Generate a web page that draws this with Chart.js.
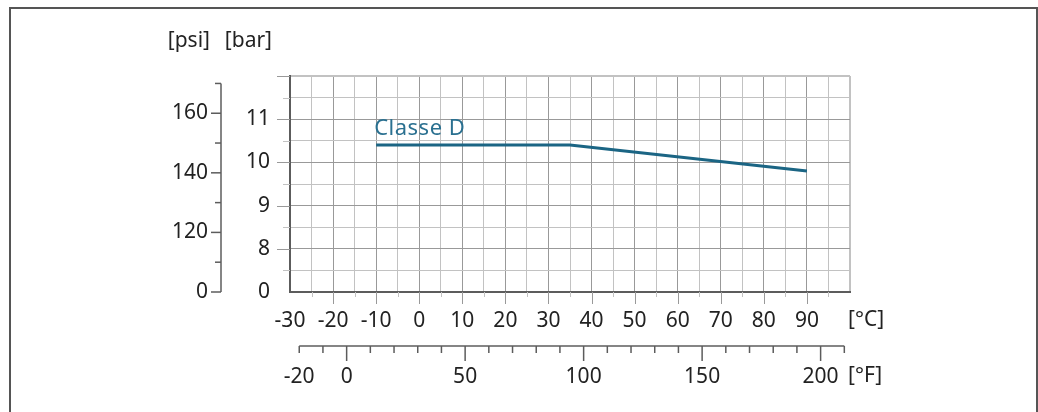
<!DOCTYPE html>
<html>
<head>
<meta charset="utf-8">
<script src="https://cdn.jsdelivr.net/npm/chart.js@4.4.1/dist/chart.umd.min.js"></script>
<style>
  html, body { margin: 0; padding: 0; background: #fff; }
  canvas { display: block; }
</style>
</head>
<body>
<canvas id="myChart" width="1038" height="412"></canvas>
<script>
// data (Classe D pressure/temperature rating)
let tempC = [-10, 35, 90];
let pressureBar = [10.4, 10.4, 9.8];
let seriesLabel = 'Classe D';

// tick labels
let celsiusTicks = [-30, -20, -10, 0, 10, 20, 30, 40, 50, 60, 70, 80, 90];
let fahrenheitTicks = [-20, 0, 50, 100, 150, 200];
let barTickValues = [7, 8, 9, 10, 11];
let barTickLabels = ['0', '8', '9', '10', '11'];
let psiTickValues = [100, 120, 140, 160];
let psiTickLabels = ['0', '120', '140', '160'];

let gridDark = '#999999';
let gridLight = '#c2c2c2';
let axisColor = '#5c5c5c';
let lineColor = '#1b6584';
let labelColor = '#2a7090';
let textColor = '#222222';

Chart.defaults.font.family = "'Noto Sans', sans-serif";
Chart.defaults.font.size = 21;
Chart.defaults.color = textColor;

let extras = {
    id: 'extras',
    afterDraw(chart) {
        let ctx = chart.ctx;
        let xs = chart.scales.x, ys = chart.scales.y, ps = chart.scales.psi, fs = chart.scales.f;
        let area = chart.chartArea;
        ctx.save();

        // frame
        ctx.strokeStyle = '#555';
        ctx.lineWidth = 2;
        ctx.beginPath();
        ctx.moveTo(10, 412);
        ctx.lineTo(10, 8);
        ctx.lineTo(1037, 8);
        ctx.lineTo(1037, 412);
        ctx.stroke();

        // grid lines running past the axes
        ctx.lineWidth = 1;
        xs.ticks.forEach(t => {
            if (t.value <= xs.min || t.value >= xs.max) return;
            let major = t.value % 10 === 0;
            let px = Math.round(xs.getPixelForValue(t.value)) + 0.5;
            ctx.strokeStyle = major ? gridDark : gridLight;
            ctx.beginPath();
            ctx.moveTo(px, area.bottom);
            ctx.lineTo(px, area.bottom + (major ? 12 : 5));
            ctx.stroke();
        });
        ys.ticks.forEach(t => {
            if (t.value <= ys.min) return;
            let major = Number.isInteger(t.value);
            let py = Math.round(ys.getPixelForValue(t.value)) + 0.5;
            ctx.strokeStyle = major ? gridDark : gridLight;
            ctx.beginPath();
            ctx.moveTo(area.left - (major ? 13 : 7), py);
            ctx.lineTo(area.left, py);
            ctx.stroke();
        });

        // psi axis
        ctx.strokeStyle = axisColor;
        ctx.lineWidth = 1.5;
        let ax = ps.right;
        ctx.beginPath();
        ctx.moveTo(ax, ps.getPixelForValue(170));
        ctx.lineTo(ax, ps.getPixelForValue(100));
        ctx.stroke();
        for (let v = 100; v <= 170; v += 10) {
            let py = ps.getPixelForValue(v);
            ctx.beginPath();
            ctx.moveTo(ax - (psiTickValues.includes(v) ? 10 : 6), py);
            ctx.lineTo(ax, py);
            ctx.stroke();
        }

        // fahrenheit axis
        let fy = fs.top + 6;
        ctx.beginPath();
        ctx.moveTo(fs.getPixelForValue(-20), fy);
        ctx.lineTo(fs.getPixelForValue(210), fy);
        ctx.stroke();
        for (let v = -20; v <= 210; v += 10) {
            let px = fs.getPixelForValue(v);
            ctx.beginPath();
            ctx.moveTo(px, fy);
            ctx.lineTo(px, fy + (v % 50 === 0 ? 15 : 7));
            ctx.stroke();
        }

        // unit texts
        ctx.fillStyle = textColor;
        ctx.font = "21px 'Noto Sans', sans-serif";
        ctx.textBaseline = 'alphabetic';
        ctx.textAlign = 'right';
        ctx.fillText('[psi]', 210, 47);
        ctx.fillText('[bar]', 272, 47);
        ctx.textAlign = 'left';
        ctx.fillText('[°C]', 848, 326);
        ctx.fillText('[°F]', 848, 382);

        // series label
        ctx.fillStyle = labelColor;
        ctx.font = "22px 'Noto Sans', sans-serif";
        ctx.letterSpacing = '0.5px';
        ctx.fillText(seriesLabel, xs.getPixelForValue(tempC[0]) - 2, ys.getPixelForValue(pressureBar[0]) - 10);
        ctx.restore();
    }
};

let ctx = document.getElementById('myChart').getContext('2d');
let myChart = new Chart(ctx, {
    type: 'line',
    data: {
        datasets: [{
            label: seriesLabel,
            data: tempC.map((t, i) => ({x: t, y: pressureBar[i]})),
            borderColor: lineColor,
            borderWidth: 3,
            pointRadius: 0,
            fill: false,
            tension: 0,
            xAxisID: 'x',
            yAxisID: 'y'
        }]
    },
    options: {
        responsive: false,
        animation: false,
        devicePixelRatio: 1,
        layout: { padding: { top: 76, right: 188, left: 0, bottom: 0 } },
        plugins: { legend: { display: false }, tooltip: { enabled: false } },
        scales: {
            x: {
                type: 'linear',
                position: 'bottom',
                weight: 0,
                min: -30,
                max: 100,
                afterFit: s => { s.height = 48; },
                ticks: {
                    stepSize: 5,
                    autoSkip: false,
                    maxRotation: 0,
                    minRotation: 0,
                    padding: 16,
                    callback: v => celsiusTicks.includes(v) ? String(v) : ''
                },
                grid: {
                    drawTicks: false,
                    color: c => (c.tick.value === 100 ? gridLight : (c.tick.value % 10 === 0 ? gridDark : gridLight)),
                    lineWidth: c => (c.tick.value === 100 ? 2 : 1)
                },
                border: { color: axisColor, width: 2 }
            },
            f: {
                type: 'linear',
                position: 'bottom',
                weight: 1,
                min: -23.9,
                max: 212.4,
                afterFit: s => { s.height = 72; },
                ticks: {
                    stepSize: 10,
                    includeBounds: false,
                    autoSkip: false,
                    maxRotation: 0,
                    minRotation: 0,
                    padding: 24,
                    callback: v => fahrenheitTicks.includes(v) ? String(v) : ''
                },
                grid: { display: false, drawTicks: false },
                border: { display: false }
            },
            y: {
                type: 'linear',
                position: 'left',
                weight: 0,
                min: 7,
                max: 12,
                afterFit: s => { s.width = 69; },
                ticks: {
                    stepSize: 0.5,
                    autoSkip: false,
                    padding: 20,
                    callback: v => {
                        let i = barTickValues.indexOf(v);
                        return i >= 0 ? barTickLabels[i] : '';
                    }
                },
                grid: {
                    drawTicks: false,
                    color: c => (c.tick.value === 12 ? gridLight : (Number.isInteger(c.tick.value) ? gridDark : gridLight)),
                    lineWidth: c => (c.tick.value === 12 ? 2 : 1)
                },
                border: { color: axisColor, width: 2 }
            },
            psi: {
                type: 'linear',
                position: 'left',
                weight: 1,
                min: 100,
                max: 172.5,
                afterFit: s => { s.width = 221; },
                ticks: {
                    stepSize: 10,
                    autoSkip: false,
                    padding: 13,
                    callback: v => {
                        let i = psiTickValues.indexOf(v);
                        return i >= 0 ? psiTickLabels[i] : '';
                    }
                },
                grid: { display: false, drawTicks: false },
                border: { display: false }
            }
        }
    },
    plugins: [extras]
});
</script>
</body>
</html>
